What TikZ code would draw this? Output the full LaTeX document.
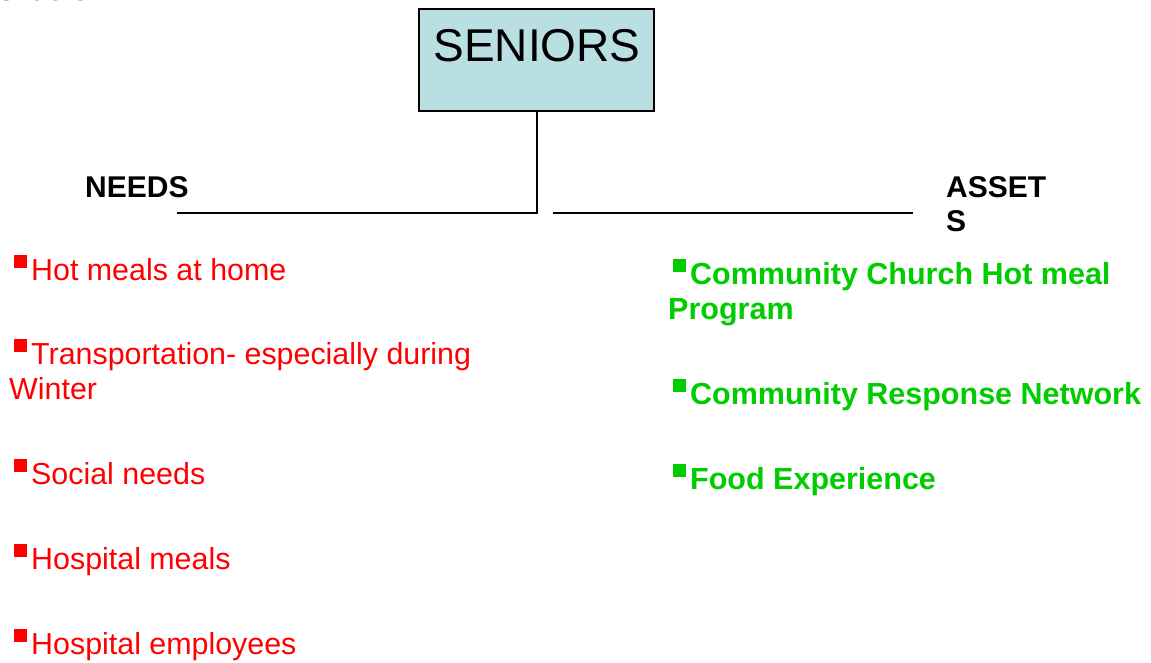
\documentclass[tikz,border=0pt]{standalone}
\usepackage{fontspec}
\setmainfont{Liberation Sans}
\definecolor{boxfill}{RGB}{185,223,227}
\definecolor{needred}{RGB}{255,0,0}
\definecolor{assetgreen}{RGB}{0,204,0}
\tikzset{
  txt/.style={anchor=base west, inner sep=0pt, font=\fontsize{30.4}{35}\selectfont},
  needtxt/.style={txt, text=needred},
  assettxt/.style={txt, text=assetgreen, font=\fontsize{30.5}{35}\selectfont\bfseries},
  headtxt/.style={txt, font=\fontsize{30}{35}\selectfont\bfseries},
  sq/.style={rectangle, inner sep=0pt, minimum size=13pt, anchor=north west},
  redsq/.style={sq, fill=needred},
  greensq/.style={sq, fill=assetgreen},
  conn/.style={line width=1.6pt, black}
}
\begin{document}
\begin{tikzpicture}[x=1pt,y=-1pt]
\useasboundingbox (0,0) rectangle (1151,663);
\clip (0,0) rectangle (1151,663);
\fill[white] (0,0) rectangle (1151,663);
% cut-off title
\node[txt] (title) at (-4,1) {Slide 3:};
% central box
\node[draw, line width=1.4pt, fill=boxfill, rectangle, minimum width=235pt, minimum height=102pt, inner sep=0pt] (seniors) at (536.5,60) {};
\node[anchor=base, inner sep=0pt, font=\fontsize{46}{52}\selectfont] (seniorslabel) at (537,62) {SENIORS};
% connectors
\coordinate (junc) at (537,213);
\coordinate (needend) at (177,213);
\coordinate (assetstart) at (553,213);
\coordinate (assetend) at (913,213);
\draw[conn] (seniors.south -| junc) -- (junc) -- (needend);
\draw[conn] (assetstart) -- (assetend);
% headings
\node[headtxt] (needs) at (85,198) {NEEDS};
\node[headtxt] (asset1) at (946,198) {ASSET};
\node[headtxt] (asset2) at (946,232) {S};
% needs
\node[redsq] (rb1) at (14,255) {};
\node[needtxt] (n1) at (31,280) {Hot meals at home};
\node[redsq] (rb2) at (14,339) {};
\node[needtxt] (n2a) at (31,364) {Transportation- especially during};
\node[needtxt] (n2b) at (9,399) {Winter};
\node[redsq] (rb3) at (14,459) {};
\node[needtxt] (n3) at (31,484) {Social needs};
\node[redsq] (rb4) at (14,544) {};
\node[needtxt] (n4) at (31,569) {Hospital meals};
\node[redsq] (rb5) at (14,629) {};
\node[needtxt] (n5) at (31,654) {Hospital employees};
% assets
\node[greensq] (gb1) at (673,259) {};
\node[assettxt] (a1a) at (690,284) {Community Church Hot meal};
\node[assettxt] (a1b) at (668,319) {Program};
\node[greensq] (gb2) at (673,379) {};
\node[assettxt] (a2) at (690,404) {Community Response Network};
\node[greensq] (gb3) at (673,464) {};
\node[assettxt] (a3) at (690,489) {Food Experience};
\end{tikzpicture}
\end{document}
